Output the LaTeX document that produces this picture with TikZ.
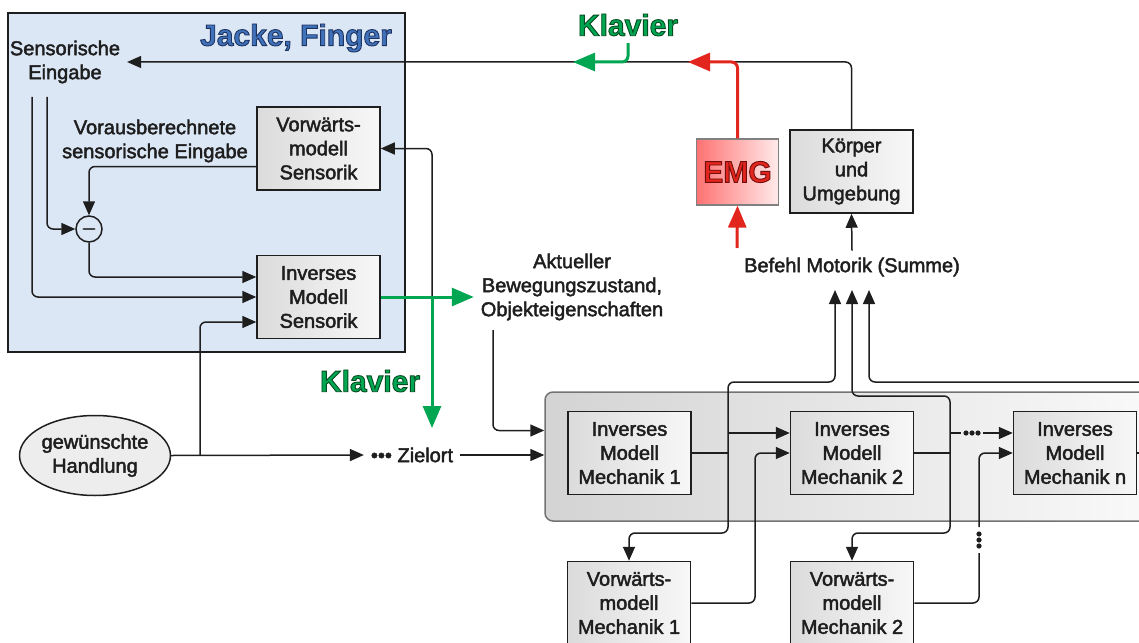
\documentclass[tikz,border=0pt]{standalone}
\usepackage{fontspec}
\setmainfont{Liberation Sans}
\usetikzlibrary{arrows.meta,shapes.geometric}
\definecolor{bluebg}{HTML}{DCE7F6}
\definecolor{titleblue}{HTML}{3F72BA}
\definecolor{klaviergreen}{HTML}{00A651}
\definecolor{emgred}{HTML}{E2261D}
\definecolor{ink}{HTML}{1E1E1E}
\newcommand{\outlined}[2]{\special{pdf:literal direct 2 Tr 0.45 w #1 RG}#2\special{pdf:literal direct 0 Tr}}
\newcommand{\heavier}{\special{pdf:literal direct 2 Tr 0.22 w}}

\begin{document}
\begin{tikzpicture}[x=0.5pt,y=-0.5pt,font=\fontsize{10}{12}\selectfont\heavier,text=ink,
  conn/.style={line width=0.75pt,draw=ink,rounded corners=3pt},
  arr/.style={conn,-{Triangle[length=7pt,width=6pt]}},
  greenarr/.style={line width=1.5pt,draw=klaviergreen,rounded corners=3pt,-{Triangle[length=11pt,width=9pt]}},
  redarr/.style={line width=1.5pt,draw=emgred,rounded corners=3pt,-{Triangle[length=11pt,width=9pt]}},
  modelbox/.style={draw=ink,line width=0.75pt,left color=black!14,right color=black!3,
    minimum width=61.5pt,minimum height=41.5pt,align=center,inner sep=1pt},
  klav/.style={font=\fontsize{15}{15}\selectfont\bfseries,text=klaviergreen},
  seqdot/.style={circle,fill=ink,inner sep=0pt,minimum size=2.6pt}]
\useasboundingbox (0,0) rectangle (1139,642);

\draw[fill=bluebg,draw=ink,line width=0.9pt] (8,13) rectangle (405,352);
\node[draw=black!55,line width=0.75pt,rounded corners=4pt,left color=black!17,right color=black!2,
  minimum width=307.5pt,minimum height=64.5pt] (mech) at (852.5,456.5) {};

\node[font=\fontsize{15}{15}\selectfont\bfseries,text=titleblue] (title) at (296,38) {\outlined{0.12 0.2 0.38}{Jacke, Finger}};
\node[align=center] (sensin) at (65,62) {Sensorische\\Eingabe};
\node[align=center] (vorb) at (155,141) {Vorausberechnete\\sensorische Eingabe};
\node[modelbox] (vfs) at (318.5,148.5) {Vorwärts-\\modell\\Sensorik};
\node[modelbox] (ims) at (318.5,297) {Inverses\\Modell\\Sensorik};
\node[circle,draw=ink,line width=0.75pt,fill=bluebg,minimum size=13pt,inner sep=0pt] (minus) at (89,229) {$-$};

\node[klav] (klav1) at (628,25) {\outlined{0.02 0.3 0.12}{Klavier}};
\node[klav] (klav2) at (370,381) {\outlined{0.02 0.3 0.12}{Klavier}};
\node[modelbox] (ke) at (851.5,171.5) {Körper\\und\\Umgebung};
\node[draw=black!50,line width=0.6pt,left color=red!55,right color=red!8,
  minimum width=40.5pt,minimum height=33pt] (emg) at (737.5,172)
  {\fontsize{15}{15}\selectfont\bfseries\color{emgred}\outlined{0.45 0.05 0.05}{EMG}};
\node (befehl) at (852,267) {Befehl Motorik (Summe)};
\node[align=center] (aktuell) at (572,287) {Aktueller\\Bewegungszustand,\\Objekteigenschaften};

\node[ellipse,draw=ink,line width=0.75pt,fill=black!7,minimum width=75pt,minimum height=40pt,
  align=center,inner sep=0pt] (gh) at (95,455.5) {gewünschte\\Handlung};
\node (ziel) at (412,455) {••• Zielort};

\node[modelbox] (imm1) at (629.5,453) {Inverses\\Modell\\Mechanik 1};
\node[modelbox] (imm2) at (852,453) {Inverses\\Modell\\Mechanik 2};
\node[modelbox] (immn) at (1075,453) {Inverses\\Modell\\Mechanik n};
\node[modelbox] (vfm1) at (629,603) {Vorwärts-\\modell\\Mechanik 1};
\node[modelbox] (vfm2) at (852,603) {Vorwärts-\\modell\\Mechanik 2};

\coordinate (s1) at (32,97);
\coordinate (s2) at (47,97);
\coordinate (gj) at (432,297);
\coordinate (gtip) at (432,428);
\coordinate (hj) at (200,455);
\coordinate (aktfoot) at (493,330);
\coordinate (redtip) at (688,62);
\coordinate (greentip) at (573,62);
\coordinate (emgin) at (737,248);
\coordinate (b1) at (835,290);
\coordinate (b2) at (852,290);
\coordinate (b3) at (869,290);
\coordinate (j1) at (728,453);
\coordinate (j1a) at (728,433);
\coordinate (j2) at (950,453);
\coordinate (j2a) at (950,433);
\coordinate (jn) at (1150,453);
\coordinate (jnb) at (1150,382);

\draw[arr] (s1) |- (ims.west);
\draw[arr] (s2) |- (minus.west);
\draw[arr] ([yshift=-9pt]vfs.west) -| (minus.north);
\draw[arr] (minus.south) |- ([yshift=10pt]ims.west);
\draw[arr] (hj) |- ([yshift=-12.5pt]ims.west);
\draw[arr] (gh.east) -- (ziel.west);
\draw[arr] (ziel.east) -- (mech.west |- ziel.east);
\draw[arr] (aktfoot) |- ([yshift=13pt]mech.west);
\draw[arr] (gj) |- (vfs.east);
\draw[greenarr] (ims.east) -- (aktuell.west |- ims.east);
\draw[greenarr] (gj) -- (gtip);

\draw[arr] (ke.north) |- (sensin.east);
\draw[redarr] (emg.north) |- (redtip);
\draw[greenarr] (klav1.south) |- (greentip);
\draw[redarr] (emgin) -- (emg.south);
\draw[arr] (befehl.north) -- (ke.south);

\draw[conn] (imm1.east) -- (j1);
\draw[arr] (j1) -- (728,382) -- (835,382) -- (b1);
\draw[arr] (j1) -- (728,533) -| (vfm1.north);
\draw[arr] (j1a) -- ([yshift=10pt]imm2.west);
\draw[arr] (vfm1.east) -- (755,603) |- (imm2.west);

\draw[conn] (imm2.east) -- (j2);
\draw[arr] (j2) -- (950,396) -- (852,396) -- (b2);
\draw[arr] (j2) -- (950,533) -| (vfm2.north);
\draw[conn] (j2a) -- (961,433);
\foreach \x in {966,972,978} \node[seqdot] at (\x,433) {};
\draw[arr] (983,433) -- ([yshift=10pt]immn.west);
\draw[conn] (vfm2.east) -- (979,603) -- (979,553);
\foreach \y in {534,540,546} \node[seqdot] at (979,\y) {};
\draw[arr] (979,527) |- (immn.west);

\draw[conn] (immn.east) -- (jn);
\draw[arr] (jnb) -- (869,382) -- (b3);
\end{tikzpicture}
\end{document}
